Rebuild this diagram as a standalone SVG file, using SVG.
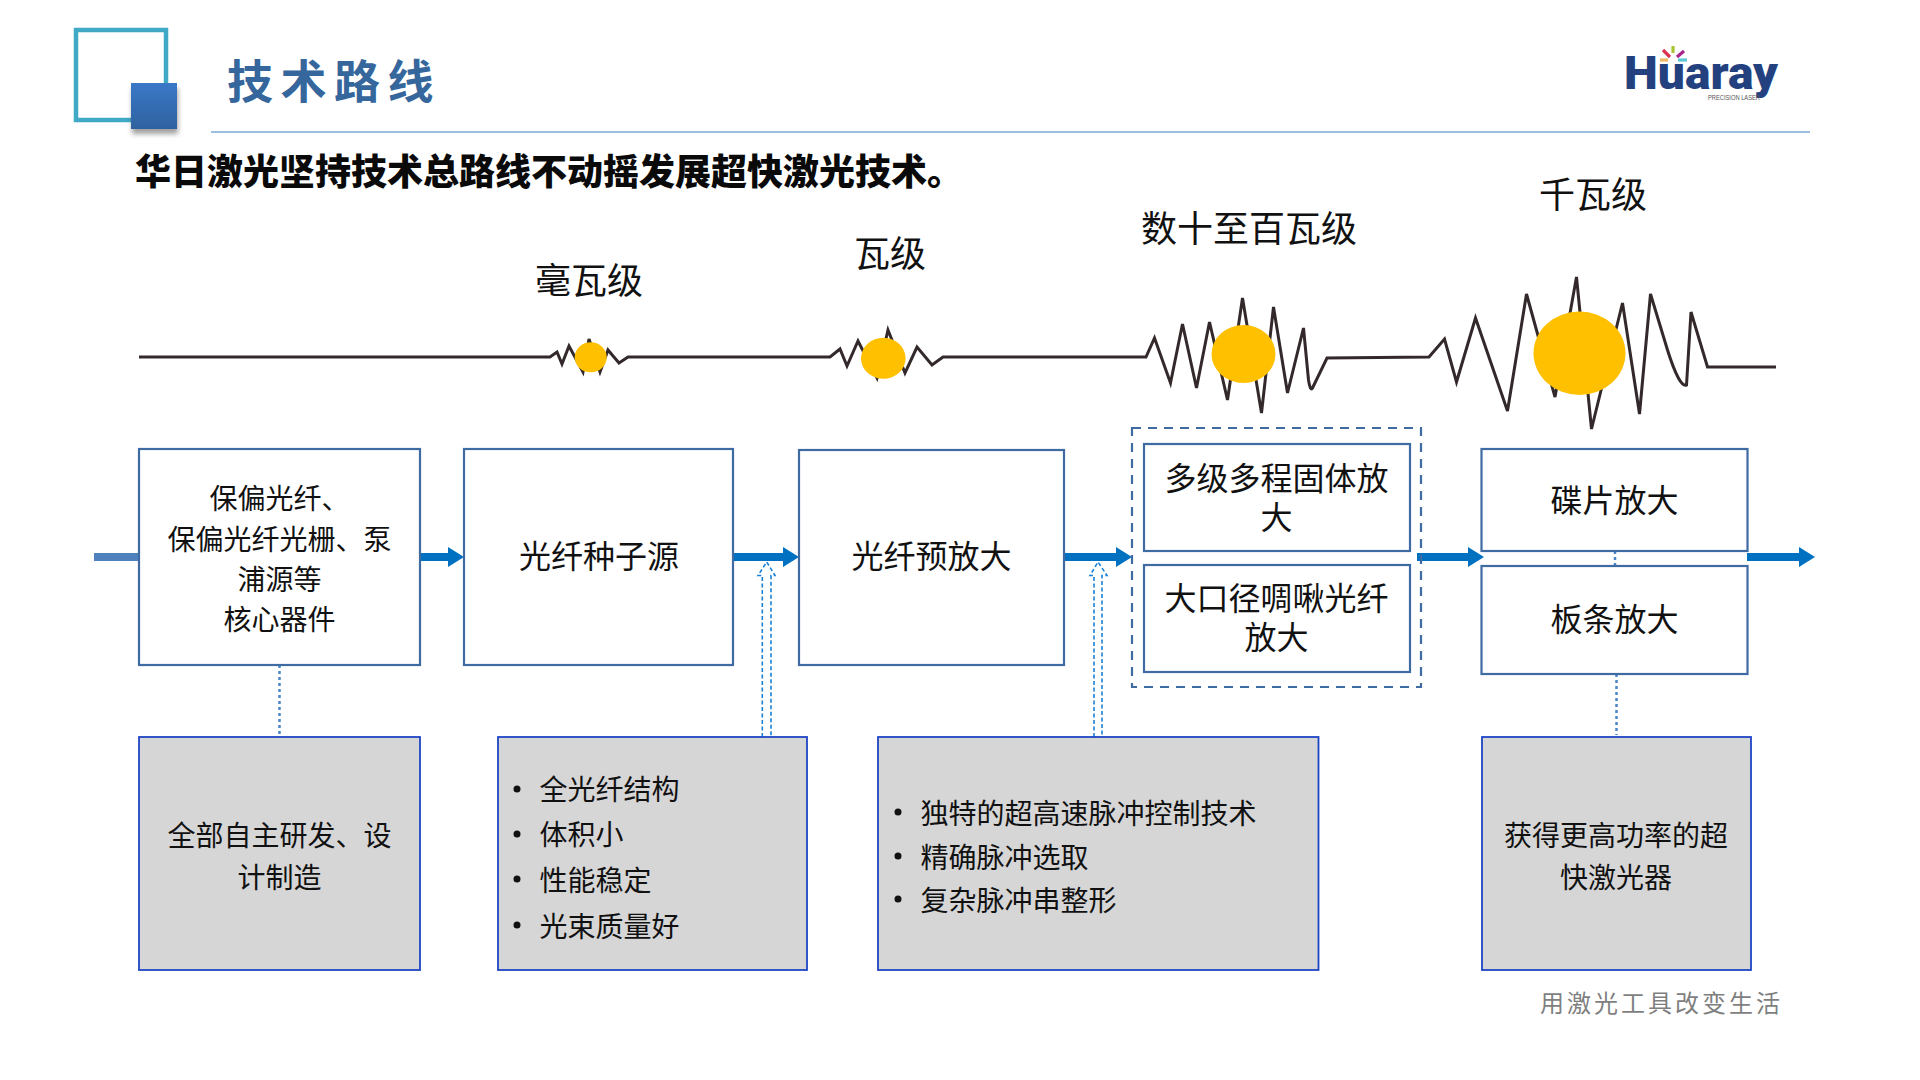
<svg xmlns="http://www.w3.org/2000/svg" width="1920" height="1080" viewBox="0 0 1920 1080">
<defs>
<linearGradient id="sq" x1="0" y1="0" x2="0" y2="1"><stop offset="0" stop-color="#3a78c8"/><stop offset="1" stop-color="#2f619f"/></linearGradient>
<filter id="blur" x="-30%" y="-30%" width="160%" height="160%"><feGaussianBlur stdDeviation="2.5"/></filter>
<marker id="ah" markerUnits="userSpaceOnUse" markerWidth="16" markerHeight="20" refX="0" refY="10" orient="auto"><path d="M0 0L16 10L0 20Z" fill="#0070c0"/></marker>
</defs>
<style>
text{font-family:"Noto Sans CJK SC","Liberation Sans",sans-serif;fill:#111;dominant-baseline:central}
.m{text-anchor:middle}
.t36{font-size:36px}.t32{font-size:32px}.t28{font-size:28px}
.box{fill:#fff;stroke:#3f6ba3;stroke-width:2.2}
.grey{fill:#d6d6d6;stroke:#1f45c4;stroke-width:1.8}
.dash{fill:none;stroke:#3f6ba3;stroke-width:2.2;stroke-dasharray:9 7}
.wave{fill:none;stroke:#33292a;stroke-width:3;stroke-linejoin:miter}
.sun{fill:#ffc000}
.flow{fill:none;stroke:#0070c0;stroke-width:8}
.dot{fill:none;stroke:#4a86c8;stroke-width:2.5;stroke-dasharray:3 3}
.up{fill:none;stroke:#1a82d8;stroke-width:1.6;stroke-dasharray:4 2.5}
.bullet{fill:#111}
</style>
<rect width="1920" height="1080" fill="#fff"/>

<g id="header">
<rect x="76" y="30" width="90" height="90" fill="none" stroke="#3fa9c6" stroke-width="4.5"/>
<rect x="132" y="88" width="46" height="46" fill="#555" opacity=".55" filter="url(#blur)"/>
<rect x="131" y="83" width="46" height="46" fill="url(#sq)"/>
<text x="227" y="78" font-size="46" font-weight="700" letter-spacing="7.5" style="fill:#35669c">技术路线</text>
<line x1="211" y1="132" x2="1810" y2="132" stroke="#7ba9d6" stroke-width="1.6"/>
<text x="135" y="168.5" font-size="36" font-weight="900" style="fill:#0a0a0a">华日激光坚持技术总路线不动摇发展超快激光技术。</text>
</g>

<g id="logo">
<text x="1624" y="72" font-size="47" font-weight="900" textLength="154" lengthAdjust="spacingAndGlyphs" style="font-family:Roboto,sans-serif;fill:#24417f">Huaray</text>
<text x="1708" y="97" font-size="8" textLength="52" lengthAdjust="spacingAndGlyphs" style="font-family:'Liberation Sans',sans-serif;fill:#555">PRECISION LASER</text>
<g stroke-width="3.2" fill="none">
<line x1="1663" y1="50" x2="1670" y2="57" stroke="#d8344f"/>
<line x1="1673" y1="46" x2="1673" y2="53" stroke="#a8c432"/>
<line x1="1684" y1="51" x2="1677" y2="57" stroke="#a8258c"/>
<line x1="1660" y1="60" x2="1668" y2="60" stroke="#f2b765"/>
<line x1="1678" y1="60" x2="1687" y2="60" stroke="#5cc8d6"/>
</g>
</g>

<g id="power-labels">
<text class="m t36" x="589" y="277.5">毫瓦级</text>
<text class="m t36" x="890" y="250.5">瓦级</text>
<text class="m t36" x="1249" y="225.5">数十至百瓦级</text>
<text class="m t36" x="1593" y="191.5">千瓦级</text>
</g>

<g id="wave">
<path class="wave" d="M139 357H550L557 352L562 364L569 346L583 372L589 339L600 372L608 350L619 363L628 357H830L840 349L847 366L858 341L877 378L888 330L905 373L917 347L932 365L943 357H1146L1154.5 338L1170.5 383L1182.5 324L1196.5 388L1209.5 322L1227.5 400L1242.5 298L1261.5 413L1273.5 307L1287.5 393L1303.5 328L1308.5 380Q1310.5 392 1312.5 388L1327 358L1429 357L1444.5 339L1456.5 382L1475.5 318L1507.5 411L1526.5 294L1555 397L1576.5 277L1591.5 429L1622.5 303L1639.5 414L1650.5 294L1667.5 350Q1679.5 388 1686.5 385L1691 312L1707.5 367H1776"/>
<ellipse class="sun" cx="590.7" cy="357.3" rx="16" ry="15"/>
<ellipse class="sun" cx="883.3" cy="358.3" rx="22.3" ry="20.5"/>
<ellipse class="sun" cx="1243.5" cy="354" rx="32" ry="29"/>
<ellipse class="sun" cx="1579.5" cy="353.3" rx="46" ry="41.7"/>
</g>

<g id="connectors">
<line x1="94" y1="557" x2="138" y2="557" stroke="#4f81bd" stroke-width="8"/>
<line class="flow" x1="420" y1="557" x2="448" y2="557" marker-end="url(#ah)"/>
<line class="flow" x1="733" y1="557" x2="783" y2="557" marker-end="url(#ah)"/>
<line class="flow" x1="1064" y1="557" x2="1116" y2="557" marker-end="url(#ah)"/>
<line class="flow" x1="1417" y1="557" x2="1468" y2="557" marker-end="url(#ah)"/>
<line class="flow" x1="1747" y1="557" x2="1799" y2="557" marker-end="url(#ah)"/>
<line class="dot" x1="279.5" y1="665" x2="279.5" y2="737"/>
<line class="dot" x1="1615" y1="551" x2="1615" y2="566"/>
<line class="dot" x1="1616.5" y1="674" x2="1616.5" y2="735"/>
<path class="up" d="M762.3 737V575.5H758L766.7 562L775 575.5H771V737"/>
<path class="up" d="M1094 737V575.5H1090L1098 562L1107 575.5H1102V737"/>
</g>

<g id="dashed-group"><rect class="dash" x="1132" y="428" width="289" height="259"/></g>

<g id="node-components"><rect class="box" x="139" y="449" width="281" height="216"/>
<text class="m t28" x="279.5" y="496.5">保偏光纤、</text>
<text class="m t28" x="279.5" y="537.5">保偏光纤光栅、泵</text>
<text class="m t28" x="279.5" y="577.5">浦源等</text>
<text class="m t28" x="279.5" y="618">核心器件</text></g>
<g id="node-seed"><rect class="box" x="464" y="449" width="269" height="216"/><text class="m t32" x="599" y="554">光纤种子源</text></g>
<g id="node-pre"><rect class="box" x="799" y="450" width="265" height="215"/><text class="m t32" x="931.5" y="554">光纤预放大</text></g>
<g id="node-solid"><rect class="box" x="1144" y="444" width="266" height="107"/>
<text class="m t32" y="476"><tspan x="1276.5">多级多程固体放</tspan><tspan x="1276.5" dy="39">大</tspan></text></g>
<g id="node-chirp"><rect class="box" x="1144" y="565" width="266" height="107"/>
<text class="m t32" y="596"><tspan x="1276.5">大口径啁啾光纤</tspan><tspan x="1276.5" dy="39">放大</tspan></text></g>
<g id="node-disk"><rect class="box" x="1481.5" y="449" width="266" height="102"/><text class="m t32" x="1614.5" y="497.5">碟片放大</text></g>
<g id="node-slab"><rect class="box" x="1481.5" y="566" width="266" height="108"/><text class="m t32" x="1614.5" y="617">板条放大</text></g>

<g id="note-rd"><rect class="grey" x="139" y="737" width="281" height="233"/>
<text class="m t28" x="279.5" y="833.5">全部自主研发、设</text><text class="m t28" x="279.5" y="875.5">计制造</text></g>
<g id="note-fiber"><rect class="grey" x="498" y="737" width="309" height="233"/>
<circle class="bullet" cx="517" cy="789" r="3.5"/><text class="t28" x="539.5" y="788">全光纤结构</text>
<circle class="bullet" cx="517" cy="834" r="3.5"/><text class="t28" x="539.5" y="833">体积小</text>
<circle class="bullet" cx="517" cy="879" r="3.5"/><text class="t28" x="539.5" y="878.5">性能稳定</text>
<circle class="bullet" cx="517" cy="925" r="3.5"/><text class="t28" x="539.5" y="924.5">光束质量好</text></g>
<g id="note-pulse"><rect class="grey" x="878" y="737" width="440.5" height="233"/>
<circle class="bullet" cx="898" cy="812" r="3.5"/><text class="t28" x="920.5" y="811.5">独特的超高速脉冲控制技术</text>
<circle class="bullet" cx="898" cy="856" r="3.5"/><text class="t28" x="920.5" y="855.5">精确脉冲选取</text>
<circle class="bullet" cx="898" cy="899" r="3.5"/><text class="t28" x="920.5" y="898.5">复杂脉冲串整形</text></g>
<g id="note-power"><rect class="grey" x="1482" y="737" width="269" height="233"/>
<text class="m t28" x="1616" y="833.5">获得更高功率的超</text><text class="m t28" x="1616" y="875.5">快激光器</text></g>

<text x="1540" y="1001" font-size="24" letter-spacing="3" style="fill:#7f7f7f">用激光工具改变生活</text>
</svg>
